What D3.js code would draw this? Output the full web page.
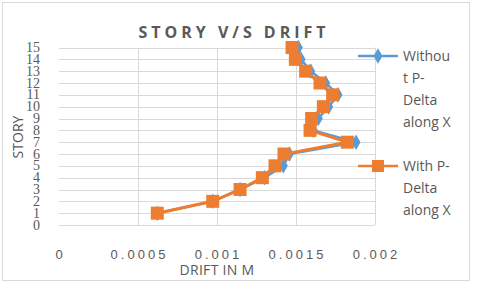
<!DOCTYPE html>
<html>
<head>
<meta charset="utf-8">
<script src="https://cdn.jsdelivr.net/npm/d3@7"></script>
<style>
  body { margin: 0; background: #fff; }
  svg { display: block; }
  text { fill: #595959; }
</style>
</head>
<body>
<svg width="480" height="282"></svg>
<script>
var stories = [1, 2, 3, 4, 5, 6, 7, 8, 9, 10, 11, 12, 13, 14, 15];
var withoutPDelta = [0.000622, 0.000973, 0.001146, 0.0013, 0.00142, 0.001458, 0.00188, 0.00161, 0.001641, 0.001707, 0.001766, 0.001688, 0.001593, 0.001532, 0.001515];
var withPDelta = [0.000622, 0.000973, 0.001146, 0.001287, 0.001367, 0.001424, 0.001825, 0.001589, 0.001599, 0.001673, 0.001732, 0.001652, 0.001561, 0.001496, 0.001475];
var xTicks = [0, 0.0005, 0.001, 0.0015, 0.002];
var xTickLabels = ['0', '0.0005', '0.001', '0.0015', '0.002'];
var yTicks = d3.range(0, 16);
var seriesNames = [['Withou', 't P-', 'Delta', 'along X'], ['With P-', 'Delta', 'along X']];
var colors = ['#5B9BD5', '#ED7D31'];

var svg = d3.select('svg');

svg.append('rect')
  .attr('x', 2.5).attr('y', 2.5)
  .attr('width', 467).attr('height', 278)
  .attr('fill', '#fff')
  .attr('stroke', '#d9d9d9');

var x = d3.scaleLinear().domain([0, 0.002]).range([59, 375]);
var y = d3.scaleLinear().domain([0, 15]).range([225, 47.5]);

// gridlines
svg.append('g').selectAll('line')
  .data(yTicks)
  .enter()
  .append('line')
  .attr('x1', x(0)).attr('x2', x(0.002))
  .attr('y1', function(d) { return Math.round(y(d)) + 0.5; })
  .attr('y2', function(d) { return Math.round(y(d)) + 0.5; })
  .attr('stroke', '#d9d9d9');

svg.append('g').selectAll('line')
  .data(xTicks.slice(1))
  .enter()
  .append('line')
  .attr('x1', function(d) { return Math.round(x(d)) + 0.5; })
  .attr('x2', function(d) { return Math.round(x(d)) + 0.5; })
  .attr('y1', y(15)).attr('y2', y(0))
  .attr('stroke', '#d9d9d9');

// y tick labels
svg.append('g').selectAll('text')
  .data(yTicks)
  .enter()
  .append('text')
  .attr('x', 40)
  .attr('y', function(d) { return y(d) + 4.5; })
  .attr('text-anchor', 'end')
  .style('font-family', 'Liberation Serif')
  .style('font-size', '14px')
  .text(function(d) { return d; });

// x tick labels
svg.append('g').selectAll('text')
  .data(xTicks)
  .enter()
  .append('text')
  .attr('x', function(d) { return x(d) + 1.5; })
  .attr('y', 259)
  .attr('text-anchor', 'middle')
  .style('font-family', 'Liberation Sans')
  .style('font-size', '13px')
  .style('letter-spacing', '3px')
  .text(function(d, i) { return xTickLabels[i]; });

// titles
svg.append('text')
  .attr('x', 234).attr('y', 38)
  .attr('text-anchor', 'middle')
  .style('font-family', 'Open Sans')
  .style('font-weight', 'bold')
  .style('font-size', '16px')
  .style('letter-spacing', '4px')
  .text('STORY V/S DRIFT');

svg.append('text')
  .attr('x', 217).attr('y', 275)
  .attr('text-anchor', 'middle')
  .style('font-family', 'Open Sans')
  .style('font-size', '14px')
  .style('letter-spacing', '0.3px')
  .text('DRIFT IN M');

svg.append('text')
  .attr('transform', 'translate(23,137) rotate(-90)')
  .attr('text-anchor', 'middle')
  .style('font-family', 'Open Sans')
  .style('font-size', '14px')
  .text('STORY');

var line = d3.line()
  .x(function(d) { return x(d.v); })
  .y(function(d) { return y(d.s); });

var series = [withoutPDelta, withPDelta].map(function(vals) {
  return vals.map(function(v, i) { return {v: v, s: stories[i]}; });
});

// without P-delta (blue, diamonds)
svg.append('path')
  .datum(series[0])
  .attr('d', line)
  .attr('fill', 'none')
  .attr('stroke', colors[0])
  .attr('stroke-width', 2.5);

var diamond = d3.symbol().type(d3.symbolDiamond).size(70);
svg.append('g').selectAll('path')
  .data(series[0])
  .enter()
  .append('path')
  .attr('d', diamond)
  .attr('transform', function(d) { return 'translate(' + x(d.v) + ',' + y(d.s) + ')'; })
  .attr('fill', colors[0]);

// with P-delta (orange, squares)
svg.append('path')
  .datum(series[1])
  .attr('d', line)
  .attr('fill', 'none')
  .attr('stroke', colors[1])
  .attr('stroke-width', 3);

svg.append('g').selectAll('rect')
  .data(series[1])
  .enter()
  .append('rect')
  .attr('x', function(d) { return x(d.v) - 6.5; })
  .attr('y', function(d) { return y(d.s) - 6.5; })
  .attr('width', 13).attr('height', 13)
  .attr('fill', colors[1]);

// legend
var legendY = [56, 166];
seriesNames.forEach(function(lines, k) {
  var g = svg.append('g').attr('transform', 'translate(0,' + legendY[k] + ')');
  g.append('line')
    .attr('x1', 358).attr('x2', 398)
    .attr('stroke', colors[k]).attr('stroke-width', 2.5);
  if (k === 0) {
    g.append('path')
      .attr('d', diamond)
      .attr('transform', 'translate(378,0)')
      .attr('fill', colors[k]);
  } else {
    g.append('rect')
      .attr('x', 372).attr('y', -6).attr('width', 12).attr('height', 12)
      .attr('fill', colors[k]);
  }
  g.selectAll('text')
    .data(lines)
    .enter()
    .append('text')
    .attr('x', 403)
    .attr('y', function(d, i) { return i * 22 + 5; })
    .style('font-family', 'Open Sans')
    .style('font-size', '14px')
    .text(function(d) { return d; });
});
</script>
</body>
</html>
